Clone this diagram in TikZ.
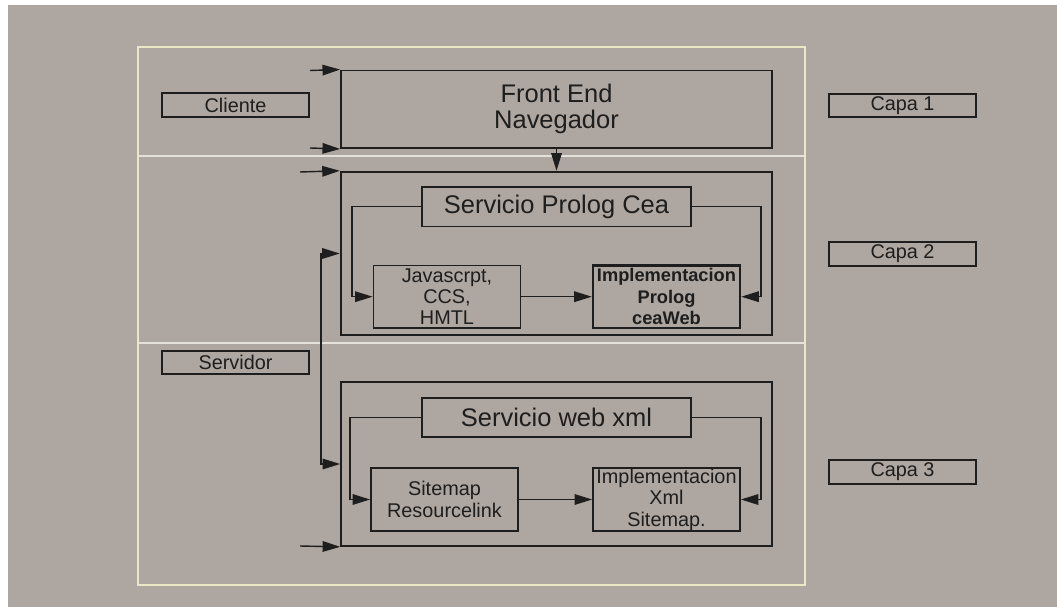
\documentclass[tikz,border=0pt]{standalone}
\usepackage{fontspec}
\setmainfont{Liberation Sans}
\usetikzlibrary{arrows.meta}
\definecolor{fondo}{RGB}{174,166,160}
\definecolor{marco}{RGB}{234,230,198}
\definecolor{separa}{RGB}{228,225,218}
\definecolor{linea}{RGB}{30,30,30}
\begin{document}
\begin{tikzpicture}[x=0.02cm,y=-0.02cm,
	etiqueta/.style={draw=linea,line width=1pt,inner sep=0pt,minimum width=2.94cm,minimum height=0.47cm,text=linea,font=\fontsize{11.3}{12}\selectfont},
	capa/.style={draw=linea,inner sep=0pt,minimum width=8.62cm,text=linea,align=center},
	titulo/.style={draw=linea,line width=1pt,inner sep=0pt,minimum width=5.38cm,minimum height=0.79cm,text=linea,font=\fontsize{14.5}{16}\selectfont},
	modulo/.style={draw=linea,line width=1pt,inner sep=0pt,minimum width=2.94cm,minimum height=1.25cm,text=linea,align=center,font=\fontsize{11.3}{12.2}\selectfont},
	flecha/.style={draw=linea,line width=0.8pt,-{Triangle[length=10pt,width=6pt]}},
	doble/.style={draw=linea,line width=0.8pt,{Triangle[length=10pt,width=6pt]}-{Triangle[length=10pt,width=6pt]}}]
		\useasboundingbox (0,0) rectangle (1057,607);
		\fill[white] (0,0) rectangle (1057,607);
		\fill[fondo] (8,5) rectangle (1057,607);
		\draw[marco,line width=1.3pt] (138,47) rectangle (805,585);
		\draw[separa,line width=1pt] (139,156) -- (804,156) (139,343) -- (804,343);
		\node[etiqueta] (cliente) at (235.5,105) {Cliente};
		\node[etiqueta] (servidor) at (235.5,362.5) {Servidor};
		\node[etiqueta] (capa1) at (902.5,105.5) {Capa 1};
		\node[etiqueta] (capa2) at (902.5,254) {Capa 2};
		\node[etiqueta] (capa3) at (902.5,472) {Capa 3};
		\node[capa,line width=1.1pt,minimum height=1.55cm,font=\fontsize{14.5}{15.5}\selectfont] (front) at (556.5,109.25) {\raisebox{-3pt}{\shortstack{Front End\\[1pt]Navegador}}};
		\node[capa,line width=1.4pt,minimum height=3.26cm] (prolog) at (556.5,253.5) {};
		\node[capa,line width=1pt,minimum height=3.28cm] (xml) at (556.5,464) {};
		\node[titulo] (spc) at (556.5,206.75) {Servicio Prolog Cea};
		\node[titulo] (swx) at (556.5,417.5) {Servicio web xml};
		\node[modulo] (js) at (447,296.7) {Javascrpt,\\CCS,\\HMTL};
		\node[modulo,line width=1.4pt,font=\fontsize{10.4}{12.2}\selectfont\bfseries] (implp) at (666.5,296.7) {Implementacion\\Prolog\\ceaWeb};
		\node[modulo,minimum height=1.26cm] (sitemap) at (444.5,499.5) {Sitemap\\Resourcelink};
		\node[modulo,minimum height=1.26cm] (implx) at (666.5,499.5) {Implementacion\\Xml\\Sitemap.};
		\coordinate (e1) at (310,70.5);
		\coordinate (e2) at (310,148);
		\coordinate (e3) at (300,172);
		\coordinate (e4) at (300,546);
		\coordinate (v1) at (321,253.5);
		\coordinate (v2) at (321,464);
		\draw[flecha] (e1) -- (front.north west);
		\draw[flecha] (e2) -- (front.south west);
		\draw[flecha] (front.south) -- (prolog.north);
		\draw[flecha] (e3) -- (prolog.north west);
		\draw[flecha] (e4) -- (xml.south west);
		\draw[doble] (prolog.west) -- (v1) -- (v2) -- (xml.west);
		\draw[flecha] (spc.west) -- ++(-69,0) |- (js.west);
		\draw[flecha] (spc.east) -- ++(69,0) |- (implp.east);
		\draw[flecha] (js) -- (implp);
		\draw[flecha] (swx.west) -- ++(-71,0) |- (sitemap.west);
		\draw[flecha] (swx.east) -- ++(69,0) |- (implx.east);
		\draw[flecha] (sitemap) -- (implx);
	\end{tikzpicture}
\end{document}
